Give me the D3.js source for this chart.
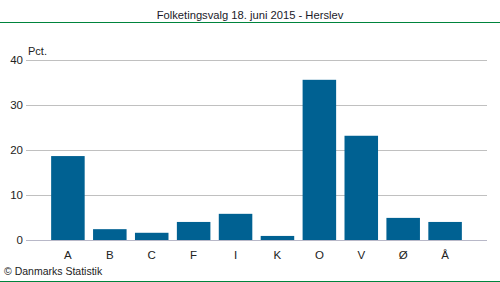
<!DOCTYPE html>
<html><head><meta charset="utf-8">
<script src="https://cdn.jsdelivr.net/npm/d3@7"></script>
<style>body{margin:0;background:#fff}svg{display:block;font-family:"Liberation Sans",Arial,sans-serif}</style>
</head><body><div id="c"></div>
<script>
const categories = ["A","B","C","F","I","K","O","V","Ø","Å"];
const values = [18.6, 2.4, 1.6, 4.0, 5.8, 0.9, 35.5, 23.1, 4.9, 4.0];
const yTicks = [0,10,20,30,40];
const title = "Folketingsvalg 18. juni 2015 - Herslev";

const W=500,H=282;
const svg=d3.select("#c").append("svg").attr("width",W).attr("height",H);
const x=d3.scaleBand().domain(categories).range([26,487]).paddingInner(0.2).paddingOuter(0.6);
const y=d3.scaleLinear().domain([0,40]).range([240,59.5]);

svg.append("text").attr("x",250).attr("y",19).attr("text-anchor","middle").attr("font-size",11.2).attr("fill","#1a1a2a").text(title);
svg.append("line").attr("x1",0).attr("x2",W).attr("y1",22.5).attr("y2",22.5).attr("stroke","#00843d").attr("stroke-width",1);
svg.append("line").attr("x1",0).attr("x2",W).attr("y1",281.5).attr("y2",281.5).attr("stroke","#00843d").attr("stroke-width",1);

const g=svg.append("g");
g.selectAll("line.grid").data(yTicks.filter(d=>d>0)).enter().append("line")
 .attr("x1",26).attr("x2",487).attr("y1",d=>Math.round(y(d))+0.5).attr("y2",d=>Math.round(y(d))+0.5)
 .attr("stroke","#c0c0c0");
g.selectAll("text.yt").data(yTicks).enter().append("text")
 .attr("x",23).attr("y",d=>y(d)+4).attr("text-anchor","end").attr("font-size",11.5).attr("fill","#222").text(d=>d);
svg.append("text").attr("x",28).attr("y",55).attr("font-size",11).attr("fill","#222").text("Pct.");

svg.selectAll("rect").data(values).enter().append("rect")
 .attr("x",(d,i)=>x(categories[i])).attr("width",x.bandwidth())
 .attr("y",d=>y(d)).attr("height",d=>y(0)-y(d)).attr("fill","#006192");

svg.append("line").attr("x1",26).attr("x2",487).attr("y1",240.5).attr("y2",240.5).attr("stroke","#b8b8c8");

svg.selectAll("text.xt").data(categories).enter().append("text")
 .attr("x",d=>x(d)+x.bandwidth()/2).attr("y",259).attr("text-anchor","middle").attr("font-size",11.5).attr("fill","#222").text(d=>d);

svg.append("text").attr("x",4).attr("y",275).attr("font-size",10.5).attr("fill","#222").text("© Danmarks Statistik");
</script></body></html>
